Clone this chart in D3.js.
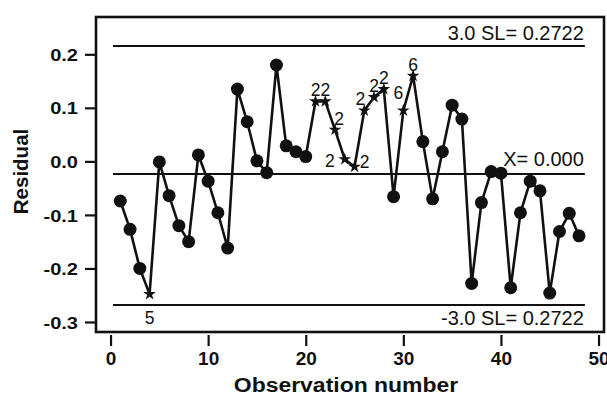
<!DOCTYPE html>
<html>
<head>
<meta charset="utf-8">
<script src="https://cdn.jsdelivr.net/npm/d3@7"></script>
<style>
  html, body { margin: 0; padding: 0; background: #fff; }
  svg { display: block; }
  text { font-family: "Liberation Sans", Arial, sans-serif; fill: #111; }
</style>
</head>
<body>
<svg id="chart" width="607" height="396"></svg>
<script>
// ---- data ----
const observations = d3.range(1, 49);
const residuals = [
  -0.074, -0.127, -0.200, -0.248, -0.001, -0.064, -0.120, -0.150, 0.012, -0.037,
  -0.096, -0.162, 0.135, 0.074, 0.001, -0.021, 0.180, 0.029, 0.018, 0.009,
  0.112, 0.112, 0.059, 0.004, -0.010, 0.095, 0.120, 0.135, -0.066, 0.095,
  0.160, 0.037, -0.070, 0.018, 0.105, 0.079, -0.228, -0.077, -0.019, -0.022,
  -0.236, -0.096, -0.037, -0.055, -0.246, -0.131, -0.097, -0.139
];
const flaggedObs = [4, 21, 22, 23, 24, 25, 26, 27, 28, 30, 31];
const flagLabels = ["5", "2", "2", "2", "2", "2", "2", "2", "2", "6", "6"];
const flagPlacement = ["below", "above", "above", "aboveRight", "left", "right", "aboveLeft", "above", "above", "aboveLeft2", "above"];
const controlNames = ["UCL", "CL", "LCL"];
const controlValues = [0.2155, -0.0235, -0.2682];
const controlLabels = ["3.0 SL= 0.2722", "X= 0.000", "-3.0 SL= 0.2722"];
const controlSpan = [0.25, 48.6];
const xTicks = [0, 10, 20, 30, 40, 50];
const yTicks = [-0.3, -0.2, -0.1, 0.0, 0.1, 0.2];
const xTitle = "Observation number";
const yTitle = "Residual";

// ---- scales ----
const svg = d3.select("#chart");
const x = d3.scaleLinear().domain([-1.49, 50.56]).range([96, 604]);
const y = d3.scaleLinear().domain([-0.3187, 0.2697]).range([332, 17]);

// frame
svg.append("rect")
  .attr("x", x.range()[0]).attr("y", y.range()[1])
  .attr("width", x.range()[1] - x.range()[0])
  .attr("height", y.range()[0] - y.range()[1])
  .attr("fill", "none").attr("stroke", "#111").attr("stroke-width", 2.6);

// y axis
const fmtY = d => d3.format(".1f")(d).replace("\u2212", "-");
const yAxis = svg.append("g")
  .attr("transform", `translate(${x.range()[0]},0)`)
  .call(d3.axisLeft(y).tickValues(yTicks).tickFormat(fmtY).tickSize(11).tickPadding(7));
yAxis.select(".domain").remove();
yAxis.selectAll("line").attr("stroke", "#111").attr("stroke-width", 2.2);
yAxis.selectAll("text")
  .attr("font-family", "Liberation Sans, Arial, sans-serif")
  .attr("font-size", 17).attr("font-weight", "bold").attr("fill", "#111")
  .attr("x", 0).attr("dy", "0.36em")
  .attr("transform", "translate(-18,0) scale(1.18,1)");

// x axis
const xAxis = svg.append("g")
  .attr("transform", `translate(0,${y.range()[0] + 3})`)
  .call(d3.axisBottom(x).tickValues(xTicks).tickFormat(d3.format("d")).tickSize(11).tickPadding(6));
xAxis.select(".domain").remove();
xAxis.selectAll("line").attr("stroke", "#111").attr("stroke-width", 2.2);
xAxis.selectAll("text")
  .attr("font-family", "Liberation Sans, Arial, sans-serif")
  .attr("font-size", 19).attr("font-weight", "bold").attr("fill", "#111");

// axis titles
const xMid = (x.range()[0] + x.range()[1]) / 2;
svg.append("text")
  .attr("x", 0).attr("y", 392)
  .attr("text-anchor", "middle")
  .attr("font-size", 20.5).attr("font-weight", "bold")
  .attr("transform", `translate(${xMid - 4},0) scale(1.12,1)`)
  .text(xTitle);
svg.append("text")
  .attr("transform", `translate(28,${(y.range()[0] + y.range()[1]) / 2 - 3}) rotate(-90)`)
  .attr("text-anchor", "middle")
  .attr("font-size", 20.5).attr("font-weight", "bold")
  .text(yTitle);

// control lines
const ctrl = controlNames.map((n, i) => ({ name: n, value: controlValues[i], label: controlLabels[i] }));
svg.append("g").selectAll("line").data(ctrl).join("line")
  .attr("x1", x(controlSpan[0])).attr("x2", x(controlSpan[1]))
  .attr("y1", d => y(d.value)).attr("y2", d => y(d.value))
  .attr("stroke", "#111").attr("stroke-width", 2);
const labelDy = { UCL: -6, CL: -8, LCL: 20 };
svg.append("g").selectAll("text").data(ctrl).join("text")
  .attr("x", x(controlSpan[1]) - 1)
  .attr("y", d => y(d.value) + labelDy[d.name])
  .attr("text-anchor", "end")
  .attr("font-size", 20)
  .text(d => d.label);

// data
const pts = observations.map((o, i) => ({ obs: o, v: residuals[i], flagged: flaggedObs.includes(o) }));
svg.append("path")
  .datum(pts)
  .attr("fill", "none").attr("stroke", "#111").attr("stroke-width", 2.6)
  .attr("stroke-linejoin", "round")
  .attr("d", d3.line().x(d => x(d.obs)).y(d => y(d.v)));

svg.append("g").selectAll("circle").data(pts.filter(d => !d.flagged)).join("circle")
  .attr("cx", d => x(d.obs)).attr("cy", d => y(d.v)).attr("r", 6.5)
  .attr("fill", "#111");

const star = d3.symbol().type(d3.symbolStar).size(50);
svg.append("g").selectAll("path").data(pts.filter(d => d.flagged)).join("path")
  .attr("transform", d => `translate(${x(d.obs)},${y(d.v)})`)
  .attr("d", star).attr("fill", "#111");

// flag labels
const placeOffsets = {
  below: [0, 30], above: [0, -5], aboveRight: [4, -5], left: [-15, 8],
  right: [10, 1], aboveLeft: [-4, -6], aboveLeft2: [-5, -12]
};
const flags = flaggedObs.map((o, i) => ({ obs: o, label: flagLabels[i], place: flagPlacement[i], v: residuals[o - 1] }));
svg.append("g").selectAll("text").data(flags).join("text")
  .attr("x", d => x(d.obs) + placeOffsets[d.place][0])
  .attr("y", d => y(d.v) + placeOffsets[d.place][1])
  .attr("text-anchor", "middle")
  .attr("font-size", 17.5)
  .text(d => d.label);
</script>
</body>
</html>
